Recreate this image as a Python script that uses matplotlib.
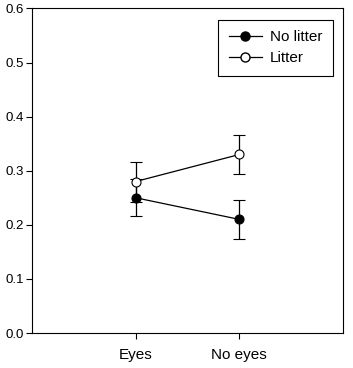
import matplotlib.pyplot as plt
import matplotlib as mpl
from matplotlib.lines import Line2D

mpl.rcParams.update({
    "font.family": ["Liberation Sans", "DejaVu Sans"],
    "font.size": 9,
})

# data
groups = ["Eyes", "No eyes"]
x_pos = [1, 2]
no_litter = [0.25, 0.21]
no_litter_err = [0.034, 0.036]
litter = [0.28, 0.33]
litter_err = [0.037, 0.036]

fig = plt.figure(figsize=(3.53, 3.68), dpi=100)
ax = fig.add_axes([0.0907, 0.0951, 0.881, 0.882])

ax.errorbar(x_pos, no_litter, yerr=no_litter_err, color="black", lw=0.9,
            marker="o", ms=6.5, mfc="black", mec="black", mew=0.8,
            capsize=4, capthick=0.9, elinewidth=0.9, zorder=3)
ax.errorbar(x_pos, litter, yerr=litter_err, color="black", lw=0.9,
            marker="o", ms=6.5, mfc="white", mec="black", mew=0.8,
            capsize=4, capthick=0.9, elinewidth=0.9, zorder=4)

ax.set_xlim(0, 3)
ax.set_ylim(0, 0.6)
ax.set_xticks(x_pos)
ax.set_xticklabels(groups, fontsize=11)
ax.set_yticks([0.0, 0.1, 0.2, 0.3, 0.4, 0.5, 0.6])
ax.set_yticklabels([f"{v:.1f}" for v in ax.get_yticks()], fontsize=9.5)
ax.tick_params(direction="out", length=4, width=0.8, pad=2)
ax.tick_params(axis="x", pad=7)
for s in ax.spines.values():
    s.set_linewidth(0.8)

handles = [
    Line2D([], [], color="black", lw=0.9, marker="o", ms=6.5, mfc="black", mec="black"),
    Line2D([], [], color="black", lw=0.9, marker="o", ms=6.5, mfc="white", mec="black"),
]
leg = ax.legend(handles, ["No litter", "Litter"], loc="upper right",
                bbox_to_anchor=(0.968, 0.965), fontsize=11,
                fancybox=False, edgecolor="black", framealpha=1,
                handlelength=2.2, handletextpad=0.5, borderpad=0.7,
                labelspacing=0.45, borderaxespad=0)
leg.get_frame().set_linewidth(0.8)

fig.savefig("out.png", dpi=100)
